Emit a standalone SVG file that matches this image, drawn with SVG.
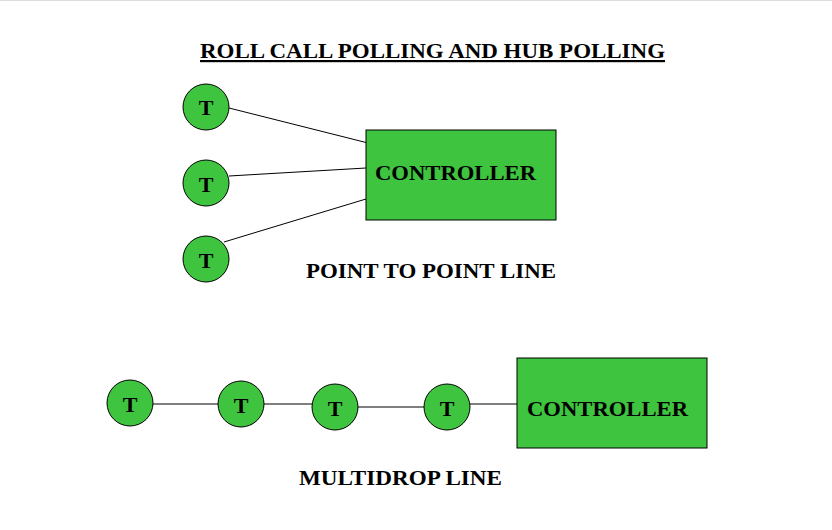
<svg xmlns="http://www.w3.org/2000/svg" width="832" height="530" viewBox="0 0 832 530">
<style>
.n{fill:#3ec43e;stroke:#000;stroke-width:1}
.t{font-family:"Liberation Serif",serif;font-weight:bold;font-size:22px;fill:#000}
.c{stroke:#000;stroke-width:1;fill:none}
</style>
<rect width="832" height="530" fill="#fff"/>
<line x1="0" y1="0.5" x2="832" y2="0.5" stroke="#ddd"/>
<text class="t" x="200" y="58" textLength="465" lengthAdjust="spacingAndGlyphs" text-decoration="underline">ROLL CALL POLLING AND HUB POLLING</text>
<g id="connectors">
<line class="c" x1="229" y1="108" x2="372" y2="144"/>
<line class="c" x1="229" y1="176" x2="366" y2="168"/>
<line class="c" x1="224" y1="242" x2="366" y2="199"/>
<line class="c" x1="153" y1="404" x2="219" y2="404"/>
<line class="c" x1="264" y1="404" x2="313" y2="404"/>
<line class="c" x1="358" y1="407" x2="424" y2="407"/>
<line class="c" x1="470" y1="404" x2="522" y2="404"/>
</g>
<g id="t1"><circle class="n" cx="206" cy="107" r="23"/><text class="t" x="206" y="115" text-anchor="middle">T</text></g>
<g id="t2"><circle class="n" cx="206" cy="183" r="23"/><text class="t" x="206" y="192" text-anchor="middle">T</text></g>
<g id="t3"><circle class="n" cx="206" cy="259" r="23"/><text class="t" x="206" y="268" text-anchor="middle">T</text></g>
<g id="ctrl1"><rect class="n" x="366" y="130" width="190" height="90"/><text class="t" x="375" y="180" textLength="161" lengthAdjust="spacingAndGlyphs">CONTROLLER</text></g>
<text class="t" x="306" y="278" textLength="250" lengthAdjust="spacingAndGlyphs">POINT TO POINT LINE</text>
<g id="t4"><circle class="n" cx="130" cy="403" r="23"/><text class="t" x="130" y="412" text-anchor="middle">T</text></g>
<g id="t5"><circle class="n" cx="241" cy="404" r="23"/><text class="t" x="241" y="413" text-anchor="middle">T</text></g>
<g id="t6"><circle class="n" cx="335" cy="407" r="23"/><text class="t" x="335" y="416" text-anchor="middle">T</text></g>
<g id="t7"><circle class="n" cx="447" cy="407" r="23"/><text class="t" x="447" y="416" text-anchor="middle">T</text></g>
<g id="ctrl2"><rect class="n" x="517" y="358" width="190" height="90"/><text class="t" x="527" y="416" textLength="161" lengthAdjust="spacingAndGlyphs">CONTROLLER</text></g>
<text class="t" x="299" y="485" textLength="203" lengthAdjust="spacingAndGlyphs">MULTIDROP LINE</text>
</svg>
